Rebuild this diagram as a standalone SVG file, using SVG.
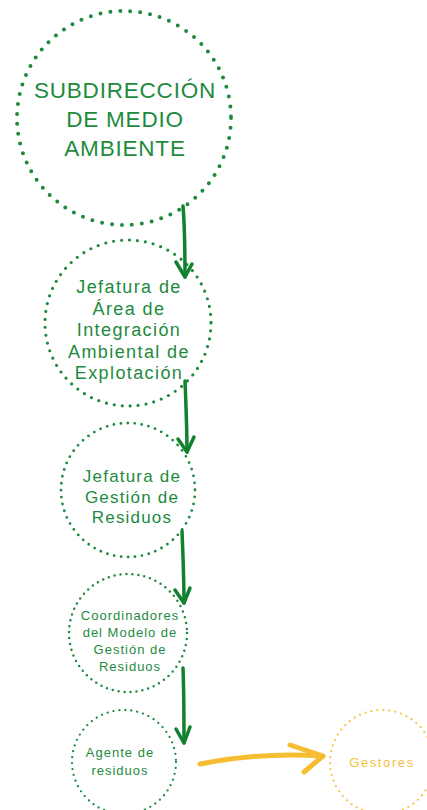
<svg xmlns="http://www.w3.org/2000/svg" width="427" height="810" viewBox="0 0 427 810">
<style>
.c{fill:none;stroke:#1e8a3e;stroke-linecap:round}
.t{fill:#1e8a3e;font-family:"Liberation Sans",Arial,sans-serif;text-anchor:middle}
.a{fill:none;stroke:#11812f;stroke-width:3.5;stroke-linecap:round;stroke-linejoin:round}
</style>
<rect width="427" height="810" fill="#fff"/>
<g id="n1">
<circle class="c" cx="124" cy="118" r="107" stroke-width="4" stroke-dasharray="0 10"/>
<text class="t" font-size="22.5" letter-spacing="0.8"><tspan x="125" y="98">SUBDIRECCIÓN</tspan><tspan x="125" y="127">DE MEDIO</tspan><tspan x="125" y="156">AMBIENTE</tspan></text>
</g>
<g id="n2">
<circle class="c" cx="128" cy="323" r="83" stroke-width="3.2" stroke-dasharray="0 8"/>
<text class="t" font-size="18" letter-spacing="1.4"><tspan x="129" y="293">Jefatura de</tspan><tspan x="129" y="314.5">Área de</tspan><tspan x="129" y="336">Integración</tspan><tspan x="129" y="357.5">Ambiental de</tspan><tspan x="129" y="379">Explotación</tspan></text>
</g>
<g id="n3">
<circle class="c" cx="128" cy="490" r="67" stroke-width="2.8" stroke-dasharray="0 7"/>
<text class="t" font-size="17" letter-spacing="1.2"><tspan x="132" y="482">Jefatura de</tspan><tspan x="132" y="502.5">Gestión de</tspan><tspan x="132" y="523">Residuos</tspan></text>
</g>
<g id="n4">
<circle class="c" cx="128" cy="633" r="59" stroke-width="2.5" stroke-dasharray="0 6"/>
<text class="t" font-size="13" letter-spacing="1"><tspan x="130" y="620">Coordinadores</tspan><tspan x="130" y="637">del Modelo de</tspan><tspan x="130" y="654">Gestión de</tspan><tspan x="130" y="671">Residuos</tspan></text>
</g>
<g id="n5">
<circle class="c" cx="124" cy="762" r="52" stroke-width="2.3" stroke-dasharray="0 6"/>
<text class="t" font-size="13" letter-spacing="1"><tspan x="120" y="757">Agente de</tspan><tspan x="120" y="775">residuos</tspan></text>
</g>
<g id="n6">
<circle cx="382" cy="762" r="52" fill="none" stroke="#f7c548" stroke-width="2.3" stroke-linecap="round" stroke-dasharray="0 6"/>
<text x="382" y="767" font-size="13" letter-spacing="1.6" fill="#f5bf3f" font-family="'Liberation Sans',Arial,sans-serif" text-anchor="middle">Gestores</text>
</g>
<g id="connectors">
<path class="a" d="M183 206 C185 230 185 255 185 277"/>
<path class="a" d="M176 262 L185 277 L192 264"/>
<path class="a" d="M185 381 C186 405 187 430 187 452"/>
<path class="a" d="M178 439 L187 452 L194 437"/>
<path class="a" d="M182 531 C183 555 184 580 184 603"/>
<path class="a" d="M175 590 L184 603 L190 588"/>
<path class="a" d="M183 668 C184 695 184 720 184 743"/>
<path class="a" d="M176 729 L184 743 L190 727"/>
<path d="M200 764 C240 756 280 753 323 756" fill="none" stroke="#f7bd32" stroke-width="5" stroke-linecap="round"/>
<path d="M290 745 L323 756 L304 772" fill="none" stroke="#f7bd32" stroke-width="5" stroke-linecap="round" stroke-linejoin="round"/>
</g>
</svg>
